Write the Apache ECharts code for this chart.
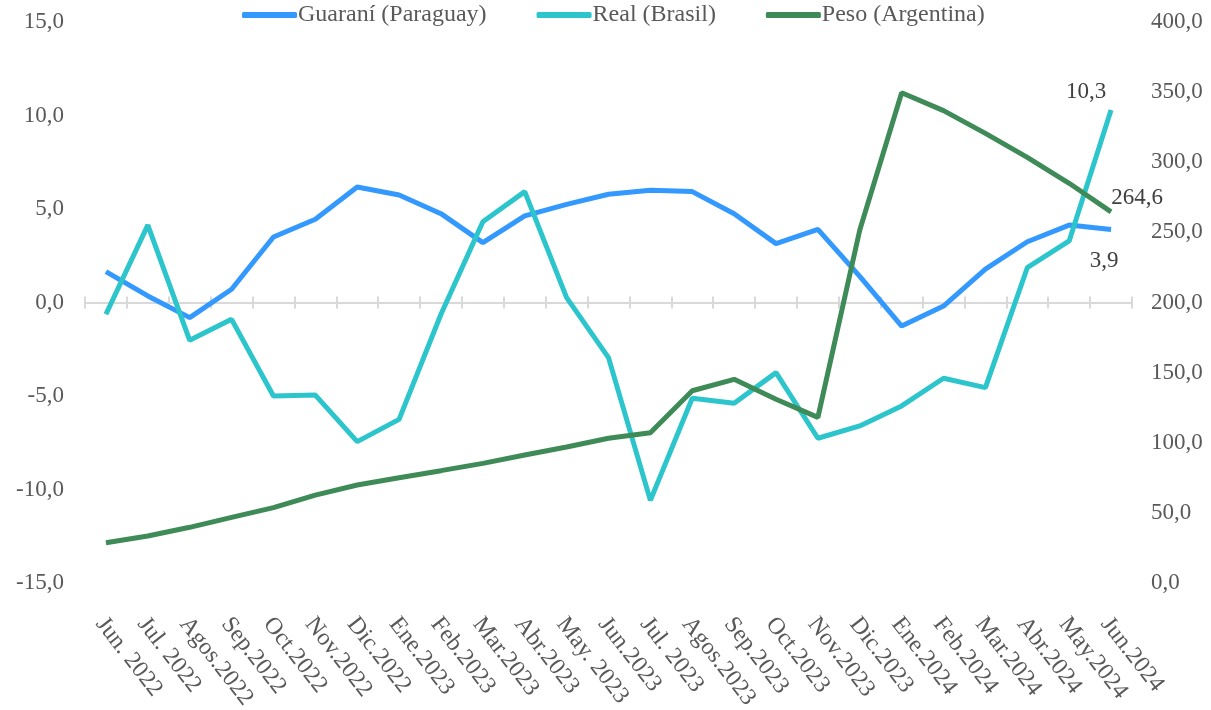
<!DOCTYPE html>
<html>
<head>
<meta charset="utf-8">
<script src="https://cdn.jsdelivr.net/npm/echarts@6/dist/echarts.min.js"></script>
<style>
html,body{margin:0;padding:0;background:#fff;}
#chart{width:1211px;height:710px;}
</style>
</head>
<body>
<div id="chart"></div>
<script>
const categories = ["Jun. 2022","Jul. 2022","Agos.2022","Sep.2022","Oct.2022","Nov.2022","Dic.2022","Ene.2023","Feb.2023","Mar.2023","Abr.2023","May. 2023","Jun.2023","Jul. 2023","Agos.2023","Sep.2023","Oct.2023","Nov.2023","Dic.2023","Ene.2024","Feb.2024","Mar.2024","Abr.2024","May.2024","Jun.2024"];
const guarani = [1.65,0.35,-0.81,0.71,3.5,4.45,6.18,5.75,4.75,3.2,4.63,5.25,5.79,6.0,5.93,4.75,3.15,3.91,1.4,-1.26,-0.19,1.78,3.25,4.14,3.9];
const real = [-0.63,4.14,-2.02,-0.9,-5.0,-4.95,-7.44,-6.25,-0.63,4.32,5.93,0.26,-2.95,-10.58,-5.12,-5.39,-3.75,-7.26,-6.6,-5.53,-4.05,-4.55,1.86,3.29,10.3];
const peso = [28.7,33.5,39.7,46.8,53.7,62.7,69.9,75.1,80.1,85.3,91.3,97,103.2,107.2,137.1,145.2,131.0,118.1,251.7,349.6,336.8,320.6,303.5,285,264.6];
const seriesNames = ["Guaraní (Paraguay)","Real (Brasil)","Peso (Argentina)"];

const FONT = "'Liberation Serif','Times New Roman',serif";
const fmt = v => Number(v).toFixed(1).replace('.', ',');

function withLastLabel(arr, pos, offset) {
  return arr.map((v, i) => i === arr.length - 1 ? {
    value: v,
    label: { show: true, position: pos, offset: offset, formatter: p => fmt(p.value),
      fontFamily: FONT, fontSize: 23, color: '#404040' }
  } : v);
}

const chart = echarts.init(document.getElementById('chart'), null, {renderer: 'canvas'});
const catAxisBase = { type: 'category', data: categories, boundaryGap: true, position: 'bottom' };
const lineSeries = (name, data, color, yIdx) => ({
  name: name, type: 'line', xAxisIndex: 0, yAxisIndex: yIdx,
  showSymbol: true, symbol: 'circle', symbolSize: 0.01,
  data: data,
  lineStyle: { color: color, width: 5 }, itemStyle: { color: color }
});
chart.setOption({
  animation: false,
  backgroundColor: '#ffffff',
  grid: { left: 85, right: 79, top: 22, bottom: 127, containLabel: false, outerBoundsMode: 'none' },
  legend: {
    left: 242, top: 3, padding: 0, icon: 'roundRect', itemWidth: 55, itemHeight: 6, itemGap: 50,
    textStyle: { fontFamily: FONT, fontSize: 24, color: '#595959', padding: [0,0,0,-4] },
    data: seriesNames
  },
  xAxis: [
    Object.assign({}, catAxisBase, {
      axisLine: { show: false, onZero: false },
      axisTick: { show: false },
      axisLabel: { interval: 0, rotate: -52, align: 'left', verticalAlign: 'top', margin: 25,
        padding: [0, 0, 0, 6],
        fontFamily: FONT, fontSize: 24, color: '#595959' }
    }),
    Object.assign({}, catAxisBase, {
      axisLine: { show: true, onZero: true, onZeroAxisIndex: 0, lineStyle: { color: '#D9D9D9', width: 2 } },
      axisTick: { show: true, length: 6, interval: 0, lineStyle: { color: '#D9D9D9', width: 2 } },
      axisLabel: { show: false }
    }),
    Object.assign({}, catAxisBase, {
      axisLine: { show: false, onZero: true, onZeroAxisIndex: 0 },
      axisTick: { show: true, inside: true, length: 6, interval: 0, lineStyle: { color: '#D9D9D9', width: 2 } },
      axisLabel: { show: false }
    })
  ],
  yAxis: [
    { type: 'value', min: -15, max: 15, interval: 5, position: 'left',
      splitLine: { show: false }, axisLine: { show: false }, axisTick: { show: false },
      axisLabel: { formatter: fmt, margin: 21, fontFamily: FONT, fontSize: 23, color: '#595959' } },
    { type: 'value', min: 0, max: 400, interval: 50, position: 'right',
      splitLine: { show: false }, axisLine: { show: false }, axisTick: { show: false },
      axisLabel: { formatter: fmt, margin: 19, fontFamily: FONT, fontSize: 23, color: '#595959' } }
  ],
  series: [
    lineSeries(seriesNames[0], withLastLabel(guarani, 'bottom', [-7, 15]), '#3399FF', 0),
    lineSeries(seriesNames[1], withLastLabel(real, 'top', [-25, -1]), '#2CC5CC', 0),
    lineSeries(seriesNames[2], withLastLabel(peso, 'top', [26, 3]), '#3E8B58', 1)
  ]
});
</script>
</body>
</html>
